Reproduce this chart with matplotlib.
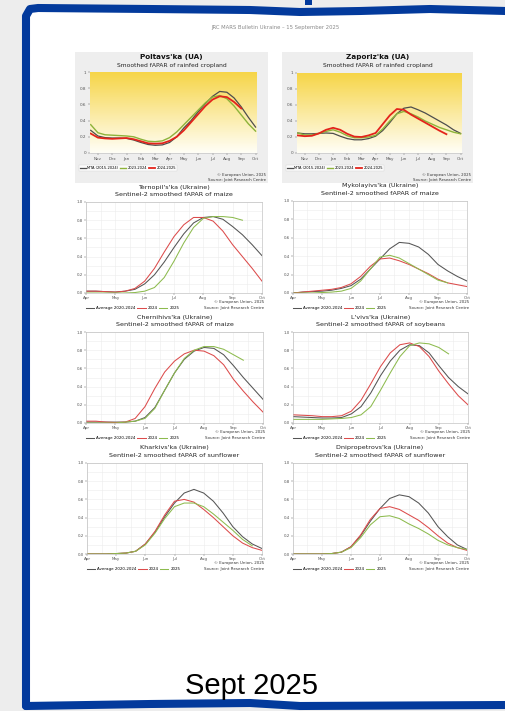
import numpy as np
import matplotlib
matplotlib.use("Agg")
import matplotlib.pyplot as plt
from matplotlib.patches import Rectangle, Polygon
from matplotlib.lines import Line2D
from matplotlib.colors import LinearSegmentedColormap

W, H = 506, 711

# ---------------- data: top panels (rainfed cropland fAPAR) ----------------
top_months = ["Nov", "Dec", "Jan", "Feb", "Mar", "Apr", "May", "Jun", "Jul", "Aug", "Sep", "Oct"]
top_x = [-0.5, 0, 0.5, 1, 1.5, 2, 2.5, 3, 3.5, 4, 4.5, 5, 5.5, 6, 6.5, 7, 7.5, 8, 8.5, 9, 9.5, 10, 10.5, 11]
top_labels = ["MTA (2015-2024)", "2023-2024", "2024-2025"]

poltava_mta = [0.28, 0.21, 0.19, 0.185, 0.185, 0.18, 0.16, 0.13, 0.105, 0.095, 0.10, 0.13,
               0.20, 0.31, 0.40, 0.51, 0.61, 0.70, 0.76, 0.75, 0.68, 0.57, 0.44, 0.32]
poltava_2324 = [0.35, 0.25, 0.225, 0.22, 0.215, 0.21, 0.20, 0.17, 0.145, 0.14, 0.15, 0.19,
                0.26, 0.35, 0.44, 0.53, 0.62, 0.69, 0.71, 0.67, 0.58, 0.47, 0.36, 0.27]
poltava_2425 = [0.24, 0.19, 0.18, 0.175, 0.18, 0.185, 0.17, 0.145, 0.12, 0.115, 0.12, 0.15,
                0.20, 0.28, 0.38, 0.48, 0.58, 0.66, 0.70, 0.69, 0.63, 0.55]

zapor_mta = [0.25, 0.24, 0.24, 0.245, 0.25, 0.245, 0.21, 0.18, 0.165, 0.165, 0.18, 0.21,
             0.28, 0.38, 0.49, 0.56, 0.575, 0.54, 0.50, 0.45, 0.40, 0.35, 0.29, 0.245]
zapor_2324 = [0.25, 0.225, 0.225, 0.245, 0.27, 0.29, 0.26, 0.215, 0.19, 0.19, 0.20, 0.22,
              0.30, 0.40, 0.49, 0.52, 0.49, 0.45, 0.40, 0.36, 0.32, 0.29, 0.26, 0.24]
zapor_2425 = [0.22, 0.21, 0.215, 0.245, 0.29, 0.315, 0.29, 0.24, 0.205, 0.20, 0.22, 0.25,
              0.36, 0.47, 0.55, 0.54, 0.48, 0.43, 0.38, 0.33, 0.28, 0.235]

# ---------------- data: Sentinel-2 panels (dekads from 1 April) ----------------
s2_months = ["Apr", "May", "Jun", "Jul", "Aug", "Sep", "Oct"]
s2_x = np.arange(19) / 3.0
s2_labels = ["Average 2020-2024", "2024", "2025"]

tern_avg = [0.02, 0.02, 0.015, 0.01, 0.02, 0.04, 0.10, 0.20, 0.34, 0.50, 0.65, 0.77, 0.83, 0.84, 0.81, 0.73, 0.64, 0.53, 0.41]
tern_24 = [0.02, 0.02, 0.015, 0.01, 0.02, 0.05, 0.13, 0.27, 0.45, 0.62, 0.75, 0.83, 0.83, 0.79, 0.68, 0.53, 0.40, 0.27, 0.13]
tern_25 = [0.0, 0.0, 0.0, 0.0, 0.0, 0.005, 0.02, 0.06, 0.17, 0.35, 0.55, 0.72, 0.82, 0.84, 0.84, 0.83, 0.80]

myk_avg = [0.0, 0.01, 0.015, 0.02, 0.03, 0.05, 0.08, 0.15, 0.26, 0.37, 0.48, 0.55, 0.54, 0.50, 0.42, 0.31, 0.24, 0.18, 0.13]
myk_24 = [0.0, 0.01, 0.02, 0.03, 0.04, 0.06, 0.10, 0.18, 0.29, 0.37, 0.38, 0.35, 0.31, 0.26, 0.21, 0.15, 0.11, 0.09, 0.07]
myk_25 = [0.0, 0.0, 0.0, 0.005, 0.01, 0.02, 0.05, 0.13, 0.26, 0.39, 0.41, 0.38, 0.32, 0.26, 0.20, 0.14, 0.11]

cher_avg = [0.01, 0.01, 0.01, 0.01, 0.01, 0.02, 0.06, 0.17, 0.36, 0.55, 0.70, 0.79, 0.83, 0.82, 0.75, 0.63, 0.50, 0.38, 0.26]
cher_24 = [0.02, 0.02, 0.01, 0.005, 0.01, 0.05, 0.18, 0.38, 0.56, 0.68, 0.76, 0.80, 0.79, 0.74, 0.64, 0.48, 0.35, 0.23, 0.12]
cher_25 = [0.0, 0.0, 0.0, 0.0, 0.01, 0.02, 0.05, 0.16, 0.36, 0.55, 0.71, 0.80, 0.84, 0.84, 0.81, 0.75, 0.69]

lviv_avg = [0.07, 0.065, 0.06, 0.055, 0.055, 0.06, 0.10, 0.18, 0.33, 0.52, 0.68, 0.80, 0.86, 0.85, 0.77, 0.63, 0.50, 0.40, 0.32]
lviv_24 = [0.09, 0.085, 0.08, 0.07, 0.07, 0.08, 0.13, 0.25, 0.43, 0.62, 0.77, 0.86, 0.88, 0.84, 0.73, 0.57, 0.43, 0.30, 0.20]
lviv_25 = [0.04, 0.04, 0.04, 0.04, 0.045, 0.05, 0.06, 0.09, 0.18, 0.36, 0.55, 0.73, 0.85, 0.88, 0.87, 0.83, 0.76]

khar_avg = [0.0, 0.0, 0.0, 0.005, 0.01, 0.03, 0.11, 0.24, 0.41, 0.56, 0.67, 0.71, 0.67, 0.58, 0.45, 0.30, 0.19, 0.11, 0.06]
khar_24 = [0.0, 0.0, 0.0, 0.005, 0.01, 0.03, 0.11, 0.25, 0.43, 0.58, 0.60, 0.57, 0.49, 0.40, 0.30, 0.20, 0.12, 0.07, 0.04]
khar_25 = [0.0, 0.0, 0.0, 0.005, 0.01, 0.03, 0.10, 0.23, 0.39, 0.52, 0.56, 0.56, 0.52, 0.44, 0.35, 0.26, 0.16, 0.09]

dnip_avg = [0.0, 0.0, 0.0, 0.0, 0.005, 0.02, 0.08, 0.20, 0.36, 0.50, 0.61, 0.65, 0.63, 0.56, 0.45, 0.30, 0.19, 0.10, 0.05]
dnip_24 = [0.0, 0.0, 0.0, 0.0, 0.005, 0.02, 0.08, 0.21, 0.38, 0.50, 0.52, 0.49, 0.43, 0.37, 0.29, 0.20, 0.12, 0.07, 0.04]
dnip_25 = [0.0, 0.0, 0.0, 0.0, 0.005, 0.02, 0.07, 0.18, 0.32, 0.41, 0.42, 0.39, 0.33, 0.28, 0.22, 0.15, 0.10, 0.07, 0.05]

# ---------------- figure ----------------
plt.rcParams['font.family'] = ['DejaVu Sans']
fig = plt.figure(figsize=(W / 100, H / 100), dpi=100)
fig.patch.set_facecolor('#ededed')

def fx(x):
    return x / W

def fy(y):
    return 1 - y / H

def rect(x0, y0, x1, y1):
    return [x0 / W, 1 - y1 / H, (x1 - x0) / W, (y1 - y0) / H]

# white page + blue border
page_pts = [(26, 706), (26, 16), (30, 9), (38, 8), (150, 9), (250, 10), (300, 12), (360, 11), (430, 9), (506, 11),
            (506, 706), (300, 706), (250, 703), (150, 704)]
fig.add_artist(Polygon([(fx(a), fy(b)) for a, b in page_pts], closed=True, transform=fig.transFigure,
                       facecolor='white', edgecolor='none', zorder=0))
left_top = [(26, 706), (26, 16), (30, 9), (38, 8), (150, 9), (250, 10), (300, 12), (360, 11), (430, 9), (506, 11)]
fig.add_artist(Line2D([fx(a) for a, b in left_top], [fy(b) for a, b in left_top], transform=fig.transFigure,
                      color='#033a9c', lw=5.8, solid_joinstyle='round', solid_capstyle='round', zorder=1))
bottom = [(26, 706), (150, 704), (250, 703), (300, 706), (506, 705)]
fig.add_artist(Line2D([fx(a) for a, b in bottom], [fy(b) for a, b in bottom], transform=fig.transFigure,
                      color='#033a9c', lw=5.8, solid_capstyle='round', zorder=1))
fig.add_artist(Rectangle((fx(305), fy(5)), 7 / W, 5 / H, transform=fig.transFigure,
                         facecolor='#033a9c', edgecolor='none', zorder=1))

fig.text(fx(275), fy(27), "JRC MARS Bulletin Ukraine – 15 September 2025", ha='center', va='center',
         fontsize=3.8, color='#8a8a8a')
fig.text(fx(252), fy(686), "Sept 2025", ha='center', va='center', fontsize=21,
         family=['Liberation Sans', 'DejaVu Sans'], color='black')

# ---------------- top panels ----------------
grad_cmap = LinearSegmentedColormap.from_list('yel', ['#fffef6', '#fbeaa0', '#f6d548'])
c_mta, c_prev, c_cur = '#4d4d4d', '#8db33a', '#e3241b'

def top_panel(box, plot, title, series):
    x0, y0, x1, y1 = box
    fig.add_artist(Rectangle((fx(x0), fy(y1)), (x1 - x0) / W, (y1 - y0) / H, transform=fig.transFigure,
                             facecolor='#eeeeee', edgecolor='none', zorder=2))
    cx = (x0 + x1) / 2
    fig.text(fx(cx), fy(57), title, ha='center', va='center', fontsize=5.2, fontweight='bold', color='#111', zorder=5)
    fig.text(fx(cx), fy(65.5), "Smoothed fAPAR of rainfed cropland", ha='center', va='center',
             fontsize=4.3, color='#222', zorder=5)
    ax = fig.add_axes(rect(*plot))
    ax.set_zorder(3)
    xmin, xmax = -0.55, 11.1
    grad = np.linspace(0, 1, 100).reshape(-1, 1)
    ax.imshow(grad, extent=[xmin, xmax, 0, 1], origin='lower', aspect='auto', cmap=grad_cmap, zorder=0)
    cols = [c_mta, c_prev, c_cur]
    lws = [0.9, 1.0, 1.3]
    handles = []
    for s, c, lw, lab in zip(series, cols, lws, top_labels):
        h, = ax.plot(top_x[:len(s)], s, color=c, lw=lw, label=lab, zorder=3)
        handles.append(h)
    ax.set_xlim(xmin, xmax)
    ax.set_ylim(0, 1)
    ax.set_xticks(range(12))
    ax.set_xticklabels(top_months)
    ax.set_yticks([0, 0.2, 0.4, 0.6, 0.8, 1])
    ax.set_yticklabels(["0", "0.2", "0.4", "0.6", "0.8", "1"])
    ax.tick_params(labelsize=3.0, colors='#555', length=1.2, width=0.3, pad=1.5)
    for sp in ax.spines.values():
        sp.set_visible(False)
    ax.spines['bottom'].set_visible(True)
    ax.spines['bottom'].set_color('#bbbbbb')
    ax.spines['bottom'].set_linewidth(0.4)
    leg = fig.legend(handles=handles, loc='center left', bbox_to_anchor=(fx(x0 + 2), fy(168)), ncol=3,
                     fontsize=2.6, frameon=True, handlelength=1.6, handletextpad=0.4, columnspacing=0.6,
                     borderpad=0.35, fancybox=False, edgecolor='#cccccc', facecolor='white')
    leg.get_frame().set_linewidth(0.3)
    leg.set_zorder(6)
    fig.text(fx(x1 - 2), fy(175), "© European Union, 2025", ha='right', va='center', fontsize=2.8, color='#333', zorder=6)
    fig.text(fx(x1 - 2), fy(180), "Source: Joint Research Centre", ha='right', va='center', fontsize=2.8, color='#333', zorder=6)

top_panel((75, 52, 268, 183), (90, 72, 257, 153), "Poltavs'ka (UA)", [poltava_mta, poltava_2324, poltava_2425])
top_panel((282, 52, 473, 183), (297, 73, 462, 153), "Zaporiz'ka (UA)", [zapor_mta, zapor_2324, zapor_2425])

# ---------------- Sentinel-2 panels ----------------
s_avg, s_24, s_25 = '#555555', '#dc4b4b', '#8dbb4e'

def s2_panel(plot, region, crop, series):
    x0, y0, x1, y1 = plot
    ax = fig.add_axes(rect(*plot))
    ax.set_zorder(3)
    cx = (x0 + x1) / 2
    fig.text(fx(cx), fy(y0 - 15), region, ha='center', va='center', fontsize=4.6, color='#222')
    fig.text(fx(cx), fy(y0 - 7.5), "Sentinel-2 smoothed fAPAR of " + crop, ha='center', va='center',
             fontsize=4.6, color='#222')
    handles = []
    for s, c, lab in zip(series, [s_avg, s_24, s_25], s2_labels):
        h, = ax.plot(s2_x[:len(s)], s, color=c, lw=0.75, label=lab)
        handles.append(h)
    ax.set_xlim(0, 6)
    ax.set_ylim(0, 1)
    ax.set_xticks(range(7))
    ax.set_xticklabels(s2_months)
    ax.set_xticks(np.arange(0.5, 6, 1), minor=True)
    ax.set_yticks([0, 0.2, 0.4, 0.6, 0.8, 1.0])
    ax.set_yticks([0.1, 0.3, 0.5, 0.7, 0.9], minor=True)
    ax.set_yticklabels(["0.0", "0.2", "0.4", "0.6", "0.8", "1.0"])
    ax.grid(True, which='both', color='#ececec', lw=0.4)
    ax.set_axisbelow(True)
    ax.tick_params(labelsize=2.9, colors='#555', length=1.5, width=0.3, pad=1)
    ax.tick_params(which='minor', length=0)
    for sp in ax.spines.values():
        sp.set_color('#b5b5b5')
        sp.set_linewidth(0.4)
    leg = fig.legend(handles=handles, loc='center left', bbox_to_anchor=(fx(x0 - 2), fy(y1 + 15)), ncol=3,
                     fontsize=2.9, frameon=False, handlelength=2.0, handletextpad=0.5, columnspacing=0.4,
                     borderpad=0.1)
    fig.text(fx(x1 + 2), fy(y1 + 9), "© European Union, 2025", ha='right', va='center', fontsize=2.9, color='#333')
    fig.text(fx(x1 + 2), fy(y1 + 15), "Source: Joint Research Centre", ha='right', va='center', fontsize=2.9, color='#333')

s2_panel((86, 202, 262, 293), "Ternopil's'ka (Ukraine)", "maize", [tern_avg, tern_24, tern_25])
s2_panel((293, 201, 467, 293), "Mykolayivs'ka (Ukraine)", "maize", [myk_avg, myk_24, myk_25])
s2_panel((86, 332, 263, 423), "Chernihivs'ka (Ukraine)", "maize", [cher_avg, cher_24, cher_25])
s2_panel((293, 332, 468, 423), "L'vivs'ka (Ukraine)", "soybeans", [lviv_avg, lviv_24, lviv_25])
s2_panel((87, 463, 262, 554), "Kharkivs'ka (Ukraine)", "sunflower", [khar_avg, khar_24, khar_25])
s2_panel((293, 463, 467, 554), "Dnipropetrovs'ka (Ukraine)", "sunflower", [dnip_avg, dnip_24, dnip_25])

fig.savefig("out.png", dpi=100, facecolor=fig.get_facecolor())
